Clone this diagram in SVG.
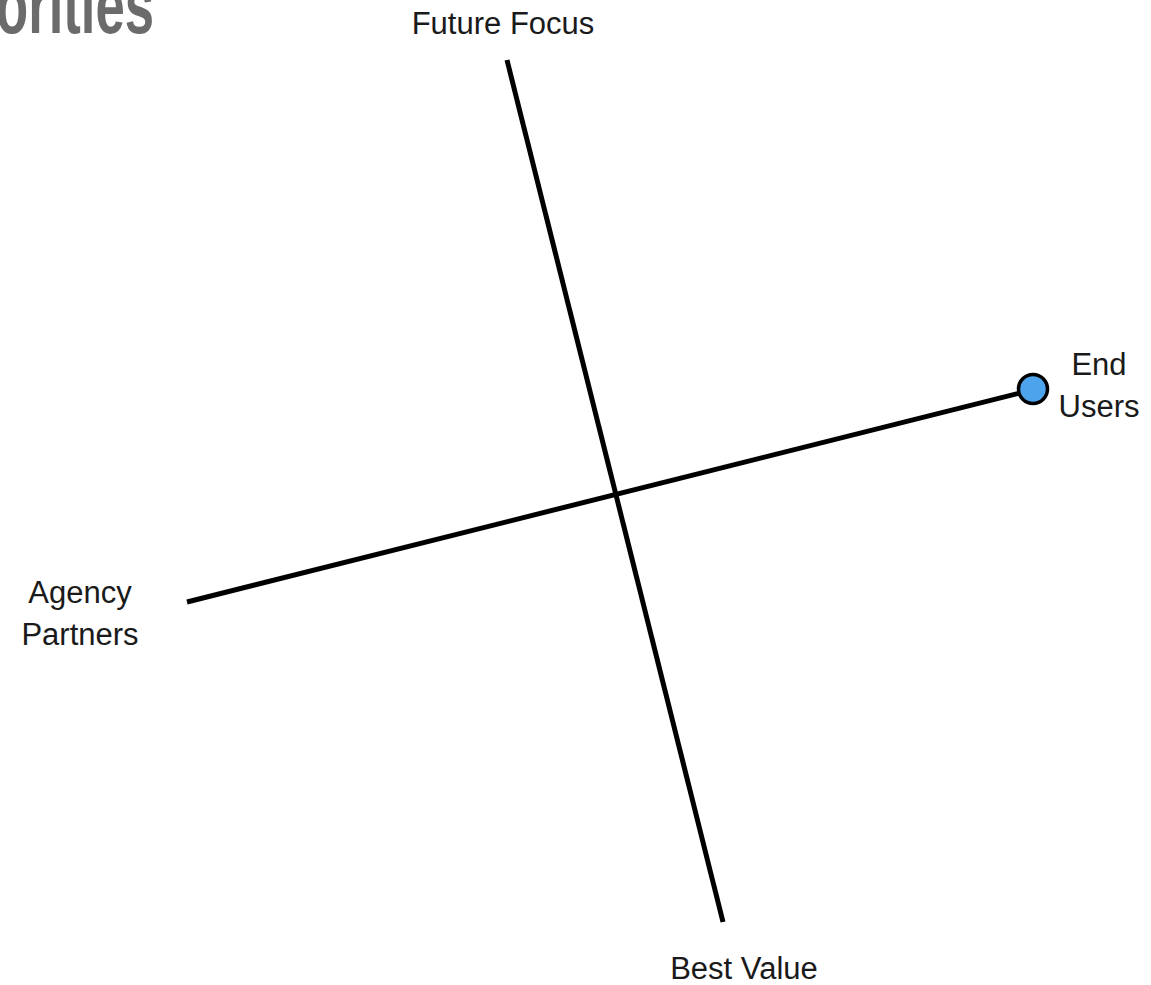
<svg xmlns="http://www.w3.org/2000/svg" width="1151" height="985" viewBox="0 0 1151 985">
<style>
.lbl{font-family:"Liberation Sans","Open Sans",sans-serif;font-size:31px;fill:#1a1a1a;text-anchor:middle}
.axis{stroke:#000;stroke-width:5;stroke-linecap:butt;fill:none}
</style>
<rect width="1151" height="985" fill="#fff"/>
<text x="-4" y="33" font-family="'Liberation Sans',sans-serif" font-size="80" font-weight="bold" fill="#6b6b6b" textLength="158" lengthAdjust="spacingAndGlyphs">orities</text>
<g id="connectors">
<line class="axis" x1="507" y1="60" x2="723" y2="922"/>
<line class="axis" x1="187" y1="602" x2="1020" y2="393"/>
</g>
<g id="end-users">
<circle cx="1033" cy="389" r="14.5" fill="#4da3ec" stroke="#000" stroke-width="3.5"/>
<text class="lbl" x="1099" y="375">End</text>
<text class="lbl" x="1099" y="417">Users</text>
</g>
<g id="future-focus"><text class="lbl" x="503" y="34">Future Focus</text></g>
<g id="agency-partners">
<text class="lbl" x="80" y="603">Agency</text>
<text class="lbl" x="80" y="645">Partners</text>
</g>
<g id="best-value"><text class="lbl" x="744" y="979">Best Value</text></g>
</svg>
